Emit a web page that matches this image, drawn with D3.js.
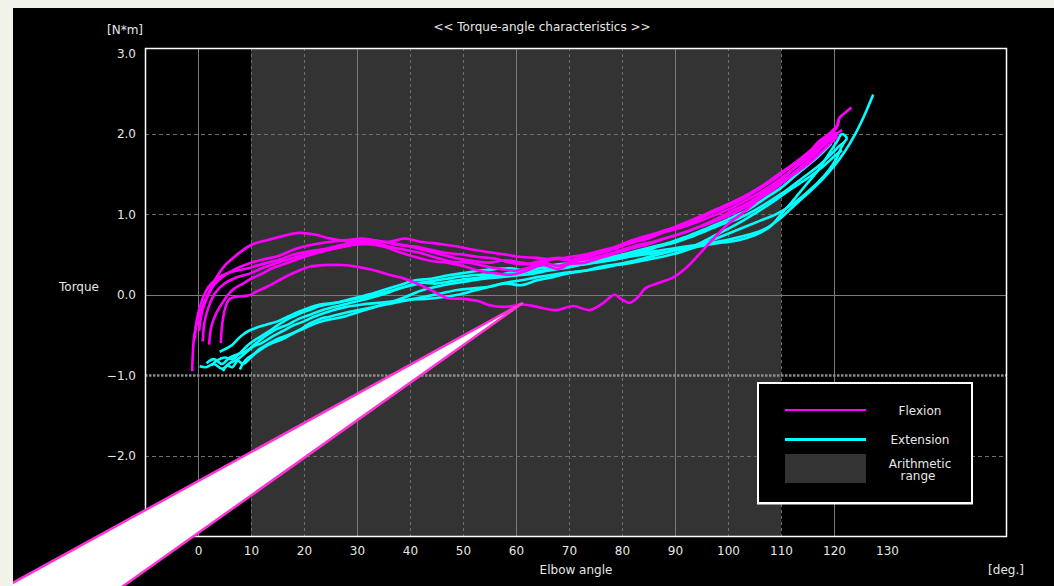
<!DOCTYPE html>
<html>
<head>
<meta charset="utf-8" />
<title>Torque-angle characteristics</title>
<style>
html, body {
    padding: 0px;
    margin: 0px;
    background: #f1f2e8;
}
svg text {
    font-family: "DejaVu Sans", sans-serif;
    font-size: 12px;
    fill: #e6e6e6;
}
</style>
</head>
<body>
<svg id="chart" width="1054" height="586"></svg>

<script src="https://d3js.org/d3.v7.min.js"></script>
<script>
!(function(){
    "use strict"

    // ticks
    var xTicks = [0, 10, 20, 30, 40, 50, 60, 70, 80, 90, 100, 110, 120, 130]
    var xGrid = [0, 10, 20, 30, 40, 50, 60, 70, 80, 90, 100, 110, 120]
    var yTicks = [3, 2, 1, 0, -1, -2]
    var yGrid = [2, 1, 0, -1, -2]
    var arithmeticRange = [10, 110]

    // flexion trials [angle deg, torque N*m]
    var flexion1 = [[-1.1,-0.95],[-0.7,-0.5],[0,-0.3],[1,-0.12],[2.2,0.05],[3.5,0.22],[5,0.36],[7,0.48],[10,0.62],[13,0.68],[16,0.73],[19,0.77],[22,0.75],[25,0.7],[28,0.67],[32,0.66],[36,0.66],[39,0.7],[42,0.66],[46,0.63],[49,0.6],[52,0.56],[55,0.53],[58,0.5],[61,0.47],[64,0.46],[67,0.44],[70,0.47],[73,0.5],[76,0.55],[79,0.6],[82,0.68],[85,0.72],[88,0.8],[91,0.85],[94,0.93],[97,1.02],[100,1.1],[103,1.2],[106,1.32],[109,1.45],[112,1.6],[115,1.75],[117,1.9],[119,2.0],[120.5,2.1],[121,2.2],[122,2.26],[123.3,2.33]]
    var flexion2 = [[0.9,-0.58],[1.2,-0.35],[2,-0.15],[3.2,0.02],[5,0.14],[7,0.21],[10,0.27],[12,0.33],[15,0.4],[18,0.46],[21,0.52],[24,0.57],[27,0.62],[30,0.67],[33,0.66],[36,0.6],[39,0.56],[42,0.52],[45,0.46],[48,0.41],[51,0.4],[54,0.36],[57,0.32],[60,0.3],[62,0.33],[65,0.4],[68,0.36],[71,0.42],[74,0.45],[77,0.5],[80,0.56],[83,0.62],[86,0.66],[89,0.72],[92,0.78],[95,0.86],[98,0.95],[101,1.05],[104,1.15],[107,1.28],[110,1.4],[113,1.55],[116,1.72],[118,1.85],[120.7,2.0]]
    var flexion3 = [[2.1,-0.62],[2.5,-0.4],[3.5,-0.22],[5,-0.06],[6.5,0.06],[8.5,0.14],[10,0.2],[12,0.26],[14,0.33],[17,0.4],[20,0.47],[23,0.53],[26,0.58],[29,0.62],[32,0.63],[35,0.6],[38,0.53],[41,0.47],[44,0.42],[47,0.4],[50,0.36],[53,0.3],[56,0.27],[59,0.25],[62,0.3],[65,0.37],[68,0.32],[70,0.38],[73,0.4],[76,0.46],[79,0.52],[82,0.58],[85,0.63],[88,0.7],[91,0.76],[94,0.83],[97,0.9],[100,0.98],[103,1.08],[106,1.2],[109,1.33],[112,1.48],[115,1.62],[118,1.8],[120.7,1.97]]
    var flexion4 = [[0.2,-0.45],[0.8,-0.2],[1.8,-0.02],[3,0.12],[5,0.24],[7,0.32],[10,0.4],[13,0.45],[15,0.48],[18,0.56],[20,0.6],[22,0.63],[25,0.66],[28,0.68],[31,0.7],[34,0.67],[37,0.64],[40,0.6],[43,0.55],[46,0.5],[49,0.45],[52,0.42],[55,0.4],[58,0.43],[61,0.4],[64,0.38],[67,0.45],[70,0.43],[73,0.48],[76,0.52],[79,0.58],[82,0.65],[85,0.7],[88,0.78],[91,0.83],[94,0.9],[97,0.98],[100,1.06],[103,1.16],[106,1.27],[109,1.4],[112,1.55],[115,1.7],[118,1.86],[120,1.98],[121.5,2.05]]
    var flexion5 = [[4.3,-0.6],[4.6,-0.35],[5.2,-0.15],[6,-0.05],[7.5,-0.02],[9.5,-0.01],[11,0.04],[13,0.1],[15,0.17],[17,0.24],[19,0.3],[21,0.35],[24,0.37],[27,0.37],[30,0.35],[33,0.31],[36,0.25],[39,0.2],[42,0.12],[44.5,0.04],[47,-0.04],[50,-0.05],[53,-0.08],[55,-0.13],[58,-0.15],[61.3,-0.12],[64,-0.15],[67.6,-0.19],[70.8,-0.14],[73.9,-0.19],[76.5,-0.1],[78.6,0.0],[80,-0.06],[81.4,-0.1],[83,-0.03],[84.4,0.08],[87,0.15],[89.5,0.21],[92,0.33],[94.5,0.5],[97,0.68],[100,0.88],[103,1.03],[106,1.2],[109,1.37],[112,1.55],[115,1.73],[118,1.9],[120.5,2.02]]
    var flexion6 = [[-0.6,-0.55],[-0.2,-0.3],[0.8,-0.06],[2,0.1],[3.5,0.2],[5.5,0.27],[8,0.31],[10,0.34],[12,0.38],[15,0.43],[18,0.5],[20,0.53],[23,0.56],[26,0.58],[29,0.62],[32,0.68],[35,0.66],[38,0.62],[41,0.6],[44,0.56],[47,0.52],[50,0.5],[53,0.47],[56,0.45],[59,0.4],[62,0.38],[65,0.43],[68,0.46],[71,0.43],[74,0.48],[77,0.55],[80,0.63],[83,0.7],[86,0.76],[89,0.82],[92,0.9],[95,0.98],[98,1.07],[101,1.16],[104,1.26],[107,1.38],[110,1.52],[113,1.66],[116,1.82],[119,1.98],[120.5,2.08],[121,2.2]]

    // extension trials [angle deg, torque N*m]
    var extension1 = [[4.1,-0.71],[5,-0.68],[6.5,-0.62],[8,-0.52],[9.5,-0.45],[11,-0.41],[13,-0.37],[15,-0.33],[17,-0.27],[19,-0.21],[21,-0.16],[23,-0.12],[26,-0.1],[29,-0.06],[32,-0.02],[35,0.03],[38,0.08],[41,0.13],[44,0.17],[47,0.2],[50,0.23],[53,0.25],[56,0.25],[59,0.26],[62,0.28],[65,0.3],[68,0.33],[71,0.36],[74,0.4],[77,0.43],[80,0.46],[83,0.5],[86,0.54],[89,0.57],[92,0.6],[95,0.63],[98,0.66],[101,0.7],[104,0.75],[107,0.82],[110,0.96],[112,1.08],[114,1.2],[116,1.32],[118,1.45],[120,1.6],[122,1.78],[124,2.0],[125.5,2.2],[126.5,2.35],[127.4,2.49]]
    var extension2 = [[0.3,-0.89],[1.5,-0.9],[3,-0.86],[4.5,-0.92],[6,-0.85],[7.5,-0.8],[9,-0.72],[10.5,-0.64],[12,-0.6],[14,-0.52],[16,-0.45],[18,-0.38],[20,-0.33],[22,-0.27],[25,-0.2],[28,-0.15],[31,-0.12],[34,-0.1],[37,-0.08],[40,-0.06],[43,-0.05],[46,-0.03],[49,0.0],[52,0.05],[55,0.1],[58,0.15],[61,0.18],[64,0.22],[67,0.25],[70,0.28],[73,0.3],[76,0.33],[79,0.37],[82,0.4],[85,0.44],[88,0.48],[91,0.53],[94,0.6],[97,0.68],[100,0.76],[103,0.84],[106,0.92],[109,1.0],[112,1.12],[115,1.28],[117,1.4],[119,1.55],[120.5,1.7],[121.5,1.85],[122.5,1.95]]
    var extension3 = [[1.6,-0.85],[3,-0.8],[4.5,-0.86],[6,-0.78],[7.5,-0.74],[9,-0.7],[11,-0.6],[13,-0.5],[15,-0.42],[17,-0.37],[19,-0.3],[21,-0.25],[24,-0.18],[27,-0.13],[30,-0.08],[33,-0.03],[36,0.03],[39,0.1],[42,0.15],[45,0.14],[48,0.17],[51,0.2],[54,0.22],[57,0.25],[60,0.29],[63,0.32],[66,0.34],[69,0.36],[72,0.39],[75,0.42],[78,0.45],[81,0.5],[84,0.54],[87,0.6],[90,0.65],[93,0.72],[96,0.8],[99,0.88],[102,0.95],[105,1.05],[108,1.17],[111,1.3],[114,1.45],[117,1.6],[119.5,1.75],[121,1.85],[122,1.9]]
    var extension4 = [[4.7,-0.95],[5.5,-0.88],[6.5,-0.9],[7.5,-0.82],[8.5,-0.86],[10,-0.78],[11.5,-0.68],[13,-0.62],[15,-0.55],[17,-0.5],[19,-0.44],[21,-0.36],[23,-0.3],[25,-0.27],[28,-0.22],[31,-0.18],[34,-0.14],[37,-0.1],[40,-0.06],[43,-0.02],[46,0.02],[49,0.06],[52,0.08],[55,0.1],[58,0.14],[61,0.12],[64,0.18],[67,0.22],[70,0.27],[73,0.3],[76,0.35],[79,0.38],[82,0.42],[85,0.47],[88,0.52],[91,0.57],[94,0.62],[97,0.72],[100,0.82],[103,0.93],[106,1.05],[109,1.18],[112,1.32],[115,1.45],[118,1.6],[120,1.72],[121.5,1.8]]
    var extension5 = [[7.9,-0.93],[8.5,-0.85],[9.5,-0.78],[11,-0.72],[12.5,-0.65],[14,-0.6],[16,-0.55],[18,-0.48],[20,-0.42],[22,-0.36],[24,-0.32],[27,-0.28],[30,-0.22],[33,-0.16],[36,-0.1],[39,-0.03],[42,0.05],[45,0.1],[48,0.14],[51,0.17],[54,0.2],[57,0.22],[60,0.24],[63,0.26],[66,0.3],[69,0.33],[72,0.37],[75,0.4],[78,0.43],[81,0.47],[84,0.5],[87,0.52],[90,0.55],[93,0.58],[96,0.62],[99,0.65],[102,0.68],[105,0.74],[108,0.85],[110,1.0],[112,1.15],[114.5,1.35],[117,1.55],[119,1.75],[120.5,1.9],[121.5,2.0],[122.5,1.95]]
    var extension6 = [[2.5,-0.88],[3.5,-0.82],[5,-0.78],[6.5,-0.8],[8,-0.72],[9.5,-0.62],[11,-0.55],[13,-0.47],[15,-0.38],[17,-0.3],[19,-0.24],[21,-0.19],[23,-0.14],[26,-0.1],[29,-0.05],[32,0.0],[35,0.06],[38,0.12],[41,0.18],[44,0.2],[47,0.24],[50,0.27],[53,0.3],[56,0.32],[59,0.33],[62,0.3],[65,0.34],[68,0.38],[71,0.4],[74,0.44],[77,0.46],[80,0.5],[83,0.55],[86,0.6],[89,0.65],[92,0.72],[95,0.8],[98,0.88],[101,0.97],[104,1.07],[107,1.2],[110,1.33],[113,1.5],[116,1.66],[118,1.78],[119.5,1.88]]

    var flexionSeries = [flexion1, flexion2, flexion3, flexion4, flexion5, flexion6]
    var extensionSeries = [extension1, extension2, extension3, extension4, extension5, extension6]

    // callout pointer: tip on the chart, base off the lower left corner (data units)
    var calloutTip = [61.3, -0.1]
    var calloutBase = [[-41.5, -3.82], [-20.7, -3.93]]

    var W = 1054, H = 586
    var plot = {left: 145, top: 48, right: 1006, bottom: 536}
    var magenta = "#ff00ff", cyan = "#00ffff", rangeFill = "#333333"

    var svg = d3.select("#chart")

    var x = d3.scaleLinear().domain([-10, 152.45]).range([plot.left, plot.right])
    var y = d3.scaleLinear().domain([-3, 3.07]).range([plot.bottom, plot.top])

    // black panel
    svg.append("rect")
        .attr("x", 13).attr("y", 8)
        .attr("width", W - 13).attr("height", H - 8)
        .attr("fill", "#000")

    svg.append("defs").append("clipPath").attr("id", "panelClip")
        .append("rect").attr("x", 13).attr("y", 8).attr("width", W - 13).attr("height", H - 8)

    // arithmetic range band
    svg.append("rect")
        .attr("x", x(arithmeticRange[0]))
        .attr("y", plot.top)
        .attr("width", x(arithmeticRange[1]) - x(arithmeticRange[0]))
        .attr("height", plot.bottom - plot.top)
        .attr("fill", rangeFill)

    // grid
    var grid = svg.append("g")
    grid.selectAll("line.vx")
        .data(xGrid)
        .enter()
        .append("line")
        .attr("x1", function(d){ return x(d) + 0.5 })
        .attr("x2", function(d){ return x(d) + 0.5 })
        .attr("y1", plot.top)
        .attr("y2", plot.bottom)
        .attr("stroke", function(d){ return d % 30 === 0 ? "#7a7a7a" : "#6e6e6e" })
        .attr("stroke-width", 1)
        .attr("stroke-dasharray", function(d){ return d % 30 === 0 ? null : "3,3" })

    grid.selectAll("line.hy")
        .data(yGrid)
        .enter()
        .append("line")
        .attr("x1", plot.left)
        .attr("x2", plot.right)
        .attr("y1", function(d){ return Math.round(y(d)) + 0.5 })
        .attr("y2", function(d){ return Math.round(y(d)) + 0.5 })
        .attr("stroke", function(d){ return d === -1 ? "#8c8c8c" : (d === 0 ? "#7a7a7a" : "#6e6e6e") })
        .attr("stroke-width", function(d){ return d === -1 ? 2.5 : 1 })
        .attr("stroke-dasharray", function(d){
            if (d === 0) return null
            if (d === -1) return "2.5,1.5"
            return "4,3"
        })

    // curves
    var line = d3.line()
        .x(function(d){ return x(d[0]) })
        .y(function(d){ return y(d[1]) })
        .curve(d3.curveCatmullRom.alpha(0.5))

    var curves = svg.append("g")
    curves.selectAll("path.ext")
        .data(extensionSeries)
        .enter()
        .append("path")
        .attr("d", line)
        .attr("fill", "none")
        .attr("stroke", cyan)
        .attr("stroke-width", 2.6)
        .attr("stroke-linejoin", "round")

    curves.selectAll("path.flex")
        .data(flexionSeries)
        .enter()
        .append("path")
        .attr("d", line)
        .attr("fill", "none")
        .attr("stroke", magenta)
        .attr("stroke-width", 2.6)
        .attr("stroke-linejoin", "round")

    // plot frame
    svg.append("rect")
        .attr("x", plot.left + 0.5).attr("y", plot.top + 0.5)
        .attr("width", plot.right - plot.left).attr("height", plot.bottom - plot.top)
        .attr("fill", "none")
        .attr("stroke", "#fff")
        .attr("stroke-width", 1.5)

    // axes labels
    var xAxis = d3.axisBottom(x).tickValues(xTicks).tickSize(0).tickPadding(0)
    var gx = svg.append("g")
        .attr("transform", "translate(0," + (plot.bottom + 10) + ")")
        .call(xAxis)
    gx.select(".domain").remove()
    gx.selectAll("text").attr("fill", "#e6e6e6").style("font-size", "12px")
        .style("font-family", "DejaVu Sans, sans-serif")

    var yAxis = d3.axisLeft(y).tickValues(yTicks).tickSize(0).tickPadding(0)
        .tickFormat(d3.format(".1f"))
    var gy = svg.append("g")
        .attr("transform", "translate(" + 136 + ",0)")
        .call(yAxis)
    gy.select(".domain").remove()
    gy.selectAll("text").attr("fill", "#e6e6e6").style("font-size", "12px")
        .style("font-family", "DejaVu Sans, sans-serif")

    svg.append("text").attr("x", 542).attr("y", 31).attr("text-anchor", "middle")
        .text("<< Torque-angle characteristics >>")
    svg.append("text").attr("x", 125).attr("y", 34).attr("text-anchor", "middle")
        .text("[N*m]")
    svg.append("text").attr("x", 79).attr("y", 291).attr("text-anchor", "middle")
        .text("Torque")
    svg.append("text").attr("x", 576).attr("y", 574).attr("text-anchor", "middle")
        .text("Elbow angle")
    svg.append("text").attr("x", 1006).attr("y", 574).attr("text-anchor", "middle")
        .text("[deg.]")

    // legend
    var lg = svg.append("g")
    lg.append("rect")
        .attr("x", 758).attr("y", 383)
        .attr("width", 214).attr("height", 120)
        .attr("fill", "#000")
        .attr("stroke", "#fff")
        .attr("stroke-width", 2)
    lg.append("line")
        .attr("x1", 757).attr("x2", 973).attr("y1", 503.5).attr("y2", 503.5)
        .attr("stroke", "#fff").attr("stroke-width", 2)
    lg.append("line")
        .attr("x1", 785).attr("x2", 866).attr("y1", 410).attr("y2", 410)
        .attr("stroke", magenta).attr("stroke-width", 2)
    lg.append("line")
        .attr("x1", 785).attr("x2", 866).attr("y1", 439.5).attr("y2", 439.5)
        .attr("stroke", cyan).attr("stroke-width", 3)
    lg.append("rect")
        .attr("x", 785).attr("y", 454)
        .attr("width", 81).attr("height", 29)
        .attr("fill", rangeFill)
    lg.append("text").attr("x", 920).attr("y", 415).attr("text-anchor", "middle").text("Flexion")
    lg.append("text").attr("x", 920).attr("y", 444).attr("text-anchor", "middle").text("Extension")
    lg.append("text").attr("x", 920).attr("y", 468).attr("text-anchor", "middle").text("Arithmetic")
    lg.append("text").attr("x", 918).attr("y", 480).attr("text-anchor", "middle").text("range")

    // callout pointer
    var pts = [calloutTip].concat(calloutBase).map(function(d){ return [x(d[0]), y(d[1])] })
    svg.append("path")
        .attr("clip-path", "url(#panelClip)")
        .attr("d", "M" + pts.join("L") + "Z")
        .attr("fill", "#fff")
        .attr("stroke", "#ff33d6")
        .attr("stroke-width", 2.5)
        .attr("stroke-linejoin", "miter")

}());
</script>
</body>
</html>
